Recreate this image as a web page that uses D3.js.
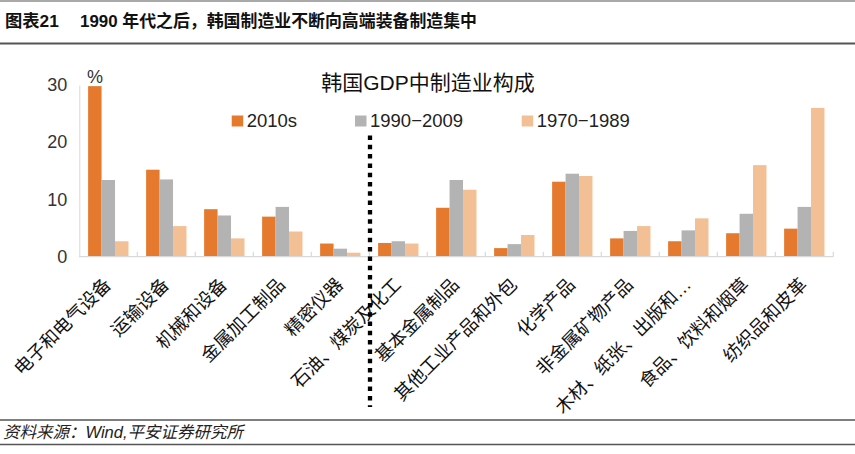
<!DOCTYPE html>
<html>
<head>
<meta charset="utf-8">
<script src="https://cdn.jsdelivr.net/npm/d3@7"></script>
<style>
  html, body { margin: 0; padding: 0; background: #fff; }
  svg { display: block; }
  text { font-family: "Liberation Sans", Arial, "Noto Sans CJK SC", sans-serif; }
</style>
</head>
<body>
<svg id="chart" width="855" height="454"></svg>
<script>
const categories = ["电子和电气设备", "运输设备", "机械和设备", "金属加工制品", "精密仪器",
  "石油、煤炭及化工", "基本金属制品", "其他工业产品和外包", "化学产品", "非金属矿物产品",
  "木材、纸张、出版和…", "食品、饮料和烟草", "纺织品和皮革"];
const seriesNames = ["2010s", "1990−2009", "1970−1989"];
const s2010s = [29.8, 15.2, 8.3, 7.0, 2.3, 2.4, 8.55, 1.5, 13.1, 3.2, 2.7, 4.1, 4.9];
const s1990 = [13.4, 13.5, 7.2, 8.7, 1.4, 2.7, 13.4, 2.2, 14.5, 4.5, 4.6, 7.5, 8.7];
const s1970 = [2.7, 5.35, 3.2, 4.4, 0.7, 2.3, 11.7, 3.8, 14.1, 5.35, 6.7, 16.0, 26.0];
const yTicks = [0, 10, 20, 30];
const seriesColors = ["#E57A2E", "#B3B3B3", "#F2C094"];
const titleText = "图表21";
const titleSub = "1990 年代之后，韩国制造业不断向高端装备制造集中";
const chartTitle = "韩国GDP中制造业构成";
const sourceText = "资料来源：Wind,平安证券研究所";
const unitText = "%";
const dividerIndex = 5;

const values = [s2010s, s1990, s1970];
const svg = d3.select("#chart");
const cjk = "\"Liberation Sans\", Arial, \"Noto Sans CJK SC\", sans-serif";

// header
svg.append("line").attr("x1", 0).attr("x2", 855).attr("y1", 1).attr("y2", 1)
  .attr("stroke", "#8c8c8c").attr("stroke-width", 1.5);
svg.append("text").attr("x", 5).attr("y", 27).attr("font-size", 17.3).attr("font-weight", "bold")
  .attr("fill", "#111").text(titleText);
svg.append("text").attr("x", 80).attr("y", 27).attr("font-size", 16.9).attr("font-weight", "bold")
  .attr("fill", "#111").text(titleSub);
svg.append("line").attr("x1", 0).attr("x2", 855).attr("y1", 43.5).attr("y2", 43.5)
  .attr("stroke", "#555").attr("stroke-width", 2);

// scales
const x0 = d3.scaleBand().domain(categories).range([79.3, 833.3]).padding(0);
const bw = x0.bandwidth();
const x1 = d3.scaleBand().domain(seriesNames).range([bw * 0.152, bw * 0.848]).padding(0);
const y = d3.scaleLinear().domain([0, 30]).range([256.7, 85]);

// y axis
const yAxis = svg.append("g").attr("transform", `translate(79.3,0)`)
  .call(d3.axisLeft(y).tickValues(yTicks).tickSize(0).tickPadding(12).tickFormat(d3.format("d")));
yAxis.select(".domain").attr("stroke", "#d9d9d9");
yAxis.selectAll("text").attr("font-size", 18).attr("fill", "#333").attr("font-family", cjk);

svg.append("text").attr("x", 87).attr("y", 83).attr("font-size", 18).attr("fill", "#333").text(unitText);

// bars
const groups = svg.append("g").selectAll("g").data(categories).join("g")
  .attr("transform", d => `translate(${x0(d)},0)`);
groups.selectAll("rect").data((c, i) => seriesNames.map((s, k) => ({ s, k, v: values[k][i] })))
  .join("rect")
  .attr("x", d => x1(d.s))
  .attr("width", x1.bandwidth())
  .attr("y", d => y(d.v))
  .attr("height", d => y(0) - y(d.v))
  .attr("fill", d => seriesColors[d.k]);

// x axis
const xAxisG = svg.append("g").attr("transform", `translate(0,${y(0)})`);
xAxisG.append("line").attr("x1", 79.3).attr("x2", 833.3).attr("y1", 0).attr("y2", 0)
  .attr("stroke", "#d9d9d9").attr("stroke-width", 1.2);
const boundaries = categories.map(c => x0(c)).concat([x0(categories[categories.length - 1]) + bw]);
xAxisG.selectAll("line.tick").data(boundaries.slice(1)).join("line").attr("class", "tick")
  .attr("x1", d => d).attr("x2", d => d).attr("y1", -5).attr("y2", 0)
  .attr("stroke", "#d9d9d9").attr("stroke-width", 1.2);

// x labels
svg.append("g").selectAll("text").data(categories).join("text")
  .attr("transform", d => `translate(${x0(d) + bw / 2 + 4},${y(0) + 29}) rotate(-45)`)
  .attr("text-anchor", "end")
  .attr("font-size", 18.3)
  .attr("fill", "#111")
  .attr("font-family", cjk)
  .text(d => d);

// divider
const dx = x0(categories[dividerIndex]);
svg.append("line").attr("x1", dx + 0.7).attr("x2", dx + 0.7).attr("y1", 135.5).attr("y2", 407)
  .attr("stroke", "#000").attr("stroke-width", 4.3).attr("stroke-dasharray", "4.5,4.8");

// chart title
svg.append("text").attr("x", 428).attr("y", 90).attr("text-anchor", "middle")
  .attr("font-size", 21).attr("fill", "#111").attr("font-family", cjk).text(chartTitle);

// legend
const legendX = [231.7, 355, 521.7];
const leg = svg.append("g").selectAll("g").data(seriesNames).join("g")
  .attr("transform", (d, i) => `translate(${legendX[i]},115.5)`);
leg.append("rect").attr("width", 11.5).attr("height", 11).attr("fill", (d, i) => seriesColors[i]);
leg.append("text").attr("x", 15).attr("y", 11.5).attr("font-size", 18.5).attr("fill", "#222")
  .attr("font-family", cjk).text(d => d);

// footer
svg.append("line").attr("x1", 0).attr("x2", 855).attr("y1", 420).attr("y2", 420)
  .attr("stroke", "#555").attr("stroke-width", 1.5);
svg.append("text").attr("x", 3).attr("y", 438).attr("font-size", 16.5).attr("font-style", "italic")
  .attr("fill", "#222").attr("font-family", cjk).text(sourceText);
svg.append("line").attr("x1", 0).attr("x2", 855).attr("y1", 444.5).attr("y2", 444.5)
  .attr("stroke", "#555").attr("stroke-width", 1.5);
</script>
</body>
</html>
